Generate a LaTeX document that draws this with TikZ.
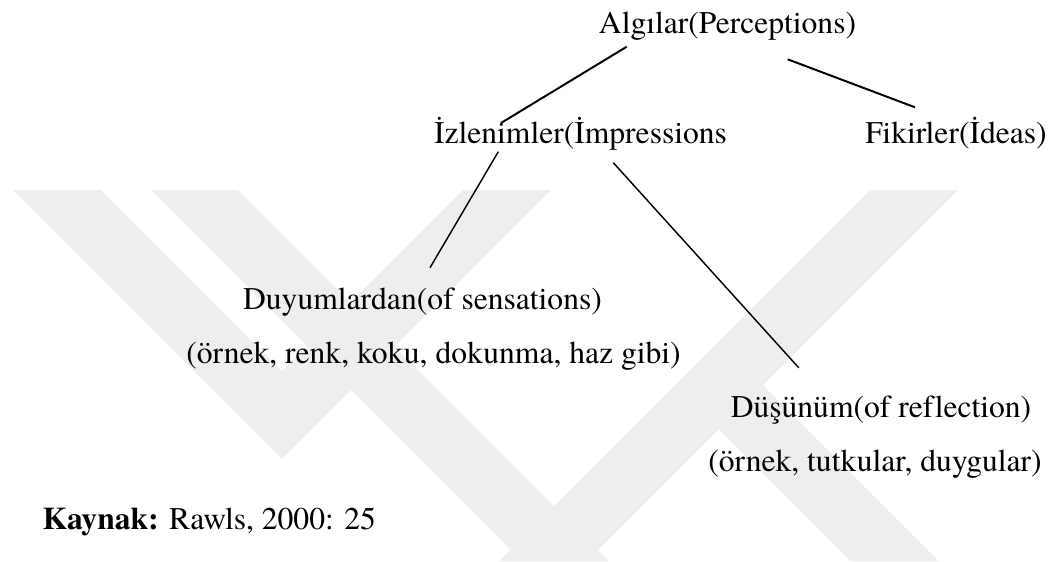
\documentclass[tikz,border=0pt]{standalone}
\usepackage{fontspec}
\setmainfont{texgyretermes}[Extension=.otf, UprightFont=*-regular, BoldFont=*-bold, ItalicFont=*-italic, BoldItalicFont=*-bolditalic, Ligatures=NoCommon]
\usetikzlibrary{arrows, calc}

\definecolor{wmark}{RGB}{238,238,238}

\tikzset{
	txt/.style={anchor=base, inner sep=0pt, font=\fontsize{12}{14}\selectfont},
	link/.style={line width=0.55pt},
	toplink/.style={line width=0.75pt},
	band/.style={fill=wmark, draw=none}
}

\begin{document}
\begin{tikzpicture}[x=0.38pt, y=-0.38pt]
	\useasboundingbox (0,0) rectangle (1052,561);
	\fill [band] (13,190) -- (101,190) -- (282,371) -- (463,190) -- (551,190) -- (282,459) -- cycle;
	\fill [band] (151,190) -- (238,190) -- (609,561) -- (522,561) -- cycle;
	\fill [band] (870,190) -- (958,190) -- (587,561) -- (499,561) -- cycle;
	\fill [band] (700,370) -- (748,370) -- (939,561) -- (851,561) -- (700,410) -- cycle;
	\node [txt] (alg) at (727.5,33) {Algılar(Perceptions)};
	\node [txt] (izl) at (580.5,143) {İzlenimler(İmpressions};
	\node [txt] (fik) at (956,143) {Fikirler(İdeas)};
	\node [txt] (duy) at (422.5,309.5) {Duyumlardan(of sensations)};
	\node [txt] (duyex) at (433.5,363.5) {(örnek, renk, koku, dokunma, haz gibi)};
	\node [txt] (dus) at (881,417.5) {Düşünüm(of reflection)};
	\node [txt] (dusex) at (875,471) {(örnek, tutkular, duygular)};
	\node [txt, anchor=base west] (kay) at (42,529) {\textbf{Kaynak:} Rawls, 2000: 25};
	\coordinate (alg-l) at (626.7,46.7);
	\coordinate (alg-r) at (787.7,59.3);
	\coordinate (izl-t) at (501,123);
	\coordinate (izl-l) at (498.3,151.7);
	\coordinate (izl-r) at (613.3,162.7);
	\coordinate (fik-t) at (915,107.3);
	\coordinate (duy-t) at (430,267.7);
	\coordinate (dus-t) at (798.8,367.8);
	\draw [toplink] (alg-l) -- (izl-t);
	\draw [toplink] (alg-r) -- (fik-t);
	\draw [link] (izl-l) -- (duy-t);
	\draw [link] (izl-r) -- (dus-t);
\end{tikzpicture}
\end{document}
